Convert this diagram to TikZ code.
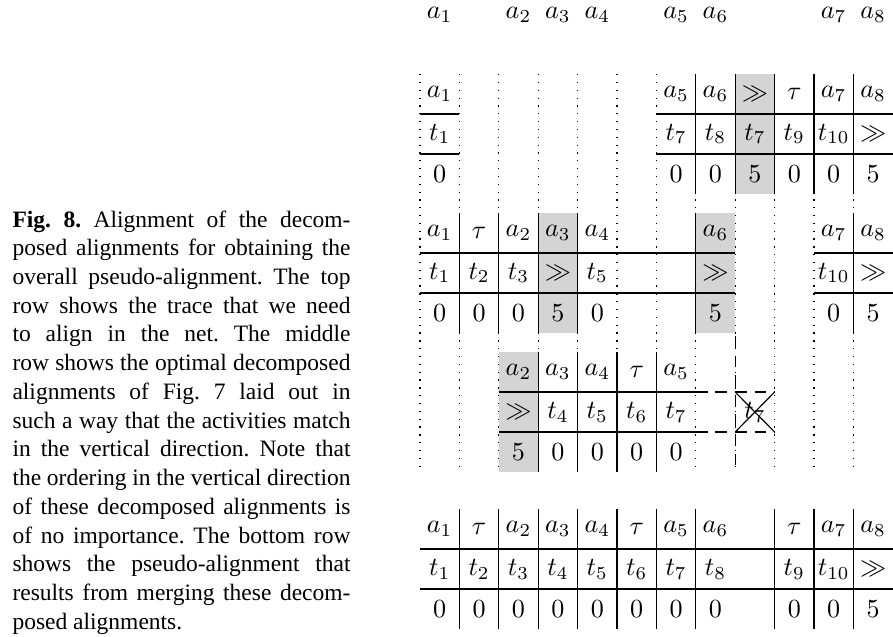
\documentclass[tikz,border=0pt]{standalone}
\usepackage{fontspec}
\newfontfamily\capfont{Liberation Serif}
\tolerance=10000
\frenchspacing

\begin{document}
\begin{tikzpicture}[
        x=15.09pt, y=15.32pt,
        cell/.style={inner sep=0pt},
        colline/.style={line width=0.45pt, dash pattern=on 0.5pt off 2.5pt},
        rowline/.style={line width=0.45pt},
        skipline/.style={line width=0.45pt, dash pattern=on 4.5pt off 3pt},
        movecell/.style={fill=black!17},
        captext/.style={anchor=north west, inner sep=0pt, text width=129.45pt, align=justify,
            font=\capfont\fontsize{9pt}{11pt}\selectfont}
    ]
    \useasboundingbox (-10.66,1.85) rectangle (12.005,-14.05);

    % ==========================================
    % CAPTION
    % ==========================================
    \node[captext] (caption) at (-10.355,-3.4) {\textbf{Fig.\ 8.} Alignment of the decom-\linebreak
        posed alignments for obtaining the\linebreak
        overall pseudo-alignment. The top\linebreak
        row shows the trace that we need\linebreak
        to align in the net. The middle\linebreak
        row shows the optimal decomposed\linebreak
        alignments of Fig. 7 laid out in\linebreak
        such a way that the activities match\linebreak
        in the vertical direction. Note that\linebreak
        the ordering in the vertical direction\linebreak
        of these decomposed alignments is\linebreak
        of no importance. The bottom row\linebreak
        shows the pseudo-alignment that\linebreak
        results from merging these decom-\linebreak
        posed alignments.};

    % ==========================================
    % TRACE
    % ==========================================
    \foreach \col/\act in {1/a_1, 3/a_2, 4/a_3, 5/a_4, 7/a_5, 8/a_6, 11/a_7, 12/a_8}
        \node[cell] (trace-\col) at (\col-0.5,1.475) {$\act$};

    % moves on log (grey)
    \fill[movecell] (8,0) rectangle (9,-3);
    \fill[movecell] (3,-3.475) rectangle (4,-6.475);
    \fill[movecell] (7,-3.475) rectangle (8,-6.475);
    \fill[movecell] (2,-6.95) rectangle (3,-9.95);

    % column guides
    \foreach \col in {0,...,11}
        \draw[colline] (\col,0) -- (\col,-9.95);

    % ==========================================
    % ROW 1: first decomposed alignment
    % ==========================================
    \begin{scope}[shift={(0,0)}]
        \draw[rowline] (0,-1) -- (1,-1) (0,-2) -- (1,-2);
        \node[cell] (b1a-1) at (0.5,-0.5) {$a_1$};
        \node[cell] (b1t-1) at (0.5,-1.5) {$t_1$};
        \node[cell] (b1c-1) at (0.5,-2.5) {$0$};

        \draw[rowline] (6,-1) -- (12,-1) (6,-2) -- (12,-2);
        \foreach \col in {7,...,11}
            \draw[rowline] (\col,0) -- (\col,-3);
        \foreach \col/\act/\trans/\cost in {7/a_5/t_7/0, 8/a_6/t_8/0, 9/\gg/t_7/5, 10/\tau/t_9/0, 11/a_7/t_{10}/0, 12/a_8/\gg/5} {
            \node[cell] (b1a-\col) at (\col-0.5,-0.5) {$\act$};
            \node[cell] (b1t-\col) at (\col-0.5,-1.5) {$\trans$};
            \node[cell] (b1c-\col) at (\col-0.5,-2.5) {$\cost$};
        }
    \end{scope}

    % ==========================================
    % ROW 2: second decomposed alignment
    % ==========================================
    \begin{scope}[shift={(0,-3.475)}]
        \draw[rowline] (0,-1) -- (8,-1) (0,-2) -- (8,-2);
        \draw[rowline] (10,-1) -- (12,-1) (10,-2) -- (12,-2);
        \foreach \col in {1,2,3,4,7,11}
            \draw[rowline] (\col,0) -- (\col,-3);
        \foreach \col/\act/\trans/\cost in {1/a_1/t_1/0, 2/\tau/t_2/0, 3/a_2/t_3/0, 4/a_3/\gg/5, 5/a_4/t_5/0, 8/a_6/\gg/5, 11/a_7/t_{10}/0, 12/a_8/\gg/5} {
            \node[cell] (b2a-\col) at (\col-0.5,-0.5) {$\act$};
            \node[cell] (b2t-\col) at (\col-0.5,-1.5) {$\trans$};
            \node[cell] (b2c-\col) at (\col-0.5,-2.5) {$\cost$};
        }
    \end{scope}

    % ==========================================
    % ROW 3: third decomposed alignment
    % ==========================================
    \begin{scope}[shift={(0,-6.95)}]
        \draw[rowline] (2,-1) -- (7,-1) (2,-2) -- (7,-2);
        \foreach \col in {3,...,6}
            \draw[rowline] (\col,0) -- (\col,-3);
        \foreach \col/\act/\trans/\cost in {3/a_2/\gg/5, 4/a_3/t_4/0, 5/a_4/t_5/0, 6/\tau/t_6/0, 7/a_5/t_7/0} {
            \node[cell] (b3a-\col) at (\col-0.5,-0.5) {$\act$};
            \node[cell] (b3t-\col) at (\col-0.5,-1.5) {$\trans$};
            \node[cell] (b3c-\col) at (\col-0.5,-2.5) {$\cost$};
        }

        % dropped t7
        \draw[skipline] (7,-1) -- (9,-1) (7,-2) -- (9,-2);
        \draw[skipline] (8,0.4) -- (8,-3);
        \node[cell] (b3t-9) at (8.5,-1.5) {$t_7$};
        \draw[rowline] (8,-1) -- (9,-2) (8,-2) -- (9,-1);
    \end{scope}

    % ==========================================
    % ROW 4: pseudo-alignment
    % ==========================================
    \begin{scope}[shift={(0,-10.875)}]
        \draw[rowline] (0,-1) -- (12,-1) (0,-2) -- (12,-2);
        \foreach \col in {1,...,7,9,10,11}
            \draw[rowline] (\col,0) -- (\col,-3);
        \foreach \col/\act/\trans/\cost in {1/a_1/t_1/0, 2/\tau/t_2/0, 3/a_2/t_3/0, 4/a_3/t_4/0, 5/a_4/t_5/0, 6/\tau/t_6/0, 7/a_5/t_7/0, 8/a_6/t_8/0, 10/\tau/t_9/0, 11/a_7/t_{10}/0, 12/a_8/\gg/5} {
            \node[cell] (b4a-\col) at (\col-0.5,-0.5) {$\act$};
            \node[cell] (b4t-\col) at (\col-0.5,-1.5) {$\trans$};
            \node[cell] (b4c-\col) at (\col-0.5,-2.5) {$\cost$};
        }
    \end{scope}

\end{tikzpicture}
\end{document}
